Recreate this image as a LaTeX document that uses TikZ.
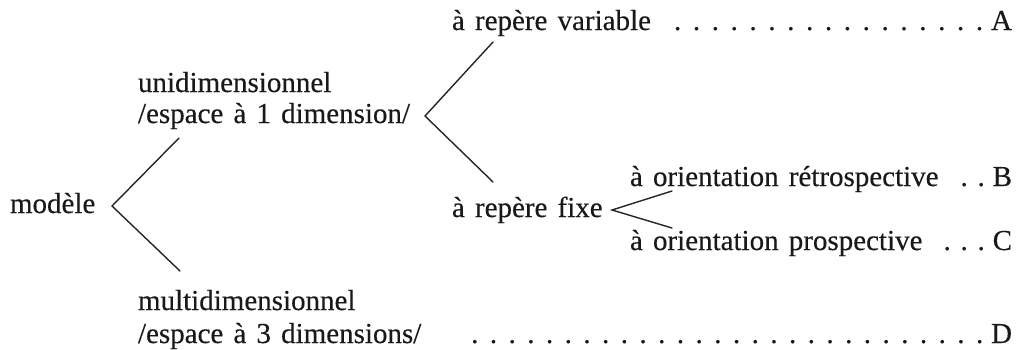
\documentclass[tikz,border=0pt]{standalone}
\usepackage{fontspec}
\setmainfont{Liberation Serif}[WordSpace=1.4,FakeBold=0.3]
% one leader cell: a dot centred in a box of the given width
\newcommand\dotcell[1]{\hbox to #1{\hss.\hss}}
% row of text, dotted leaders (given pitch) and a closing letter, set to a given width
\newcommand\dotrow[4]{\hbox to #1{#2\xleaders\dotcell{#3}\hfill\kern2pt #4}}
% row of text ending in a few spaced dots and a letter
\newcommand\shortrow[3]{\hbox to #1{#2\hfill #3}}
\begin{document}
\begin{tikzpicture}[x=1pt,y=-1pt,
  lbl/.style={anchor=base west,inner sep=0pt,outer sep=0pt,text=black!90,
    font=\fontsize{29}{32}\selectfont},
  branch/.style={line width=1.4pt,draw=black!85,line cap=round,line join=miter}]
\useasboundingbox[fill=white] (0,0) rectangle (1017,349);

% labels
\node[lbl] (modele) at (10,213) {modèle};
\node[lbl] (uni1)   at (138,92)  {unidimensionnel};
\node[lbl] (uni2)   at (138,123) {/espace à 1 dimension/};
\node[lbl] (multi1) at (138,310) {multidimensionnel};
\node[lbl] (multi2) at (138,343) {\dotrow{874pt}{/espace à 3 dimensions/\hskip44pt}{18.5pt}{D}};
\node[lbl] (var)    at (452,30)  {\dotrow{560pt}{à repère variable\hskip17pt}{18.5pt}{A}};
\node[lbl] (fixe)   at (452,217) {à repère fixe};
\node[lbl] (retro)  at (630,186)
  {\shortrow{382pt}{à orientation rétrospective}{\dotcell{17pt}\dotcell{17pt}\kern3pt B}};
\node[lbl] (pros)   at (630,250)
  {\shortrow{382pt}{à orientation prospective}{\dotcell{17pt}\dotcell{17pt}\dotcell{17pt}\kern3pt C}};

% branching points
\coordinate (v1) at (112,206);
\coordinate (a1) at (179,138);
\coordinate (b1) at (180,271);
\coordinate (v2) at (425,116);
\coordinate (a2) at (493,42);
\coordinate (b2) at (493,182);
\coordinate (v3) at (612,210);
\coordinate (a3) at (672,191);
\coordinate (b3) at (672,228);

\draw[branch] (a1) -- (v1) -- (b1);
\draw[branch] (a2) -- (v2) -- (b2);
\draw[branch] (a3) -- (v3) -- (b3);
\end{tikzpicture}
\end{document}
